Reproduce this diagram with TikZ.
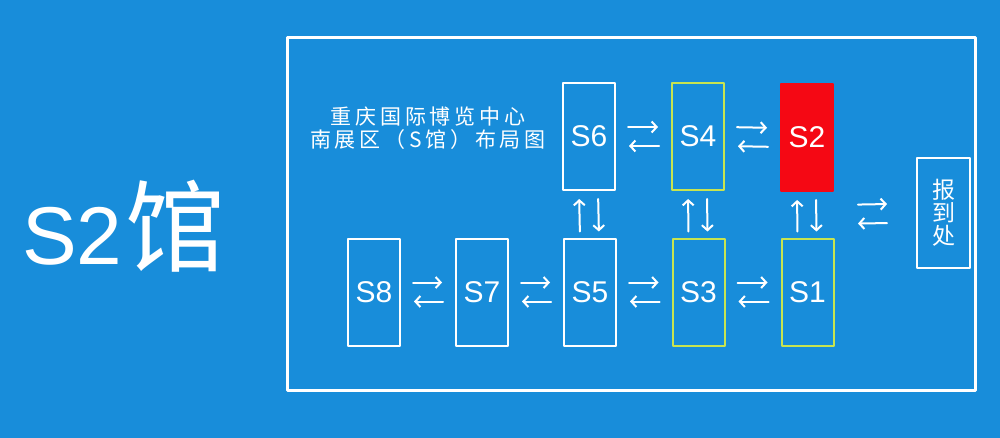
\documentclass[tikz,border=0pt]{standalone}
\usepackage{fontspec}
\setmainfont{Liberation Sans}
\newfontfamily\cjk{Noto Sans CJK SC}
\newfontfamily\cjkwide[LetterSpace=18]{Noto Sans CJK SC}
\usetikzlibrary{arrows.meta}
\definecolor{bgblue}{RGB}{24,141,218}
\definecolor{hallgreen}{RGB}{200,228,80}
\definecolor{hallred}{RGB}{245,8,20}
\tikzset{
  hall/.style={draw=white,line width=2pt,minimum width=52pt,minimum height=107pt,inner sep=0pt,
    text=white,font=\fontsize{30}{30}\selectfont},
  nearhall/.style={hall,draw=hallgreen},
  herehall/.style={hall,draw=hallred,fill=hallred},
  flow/.style={draw=white,line width=2pt,-{Straight Barb[length=5pt,width=11pt]}}
}
\begin{document}
\begin{tikzpicture}[x=1pt,y=-1pt,line join=round,line cap=round]
  \fill[bgblue] (0,0) rectangle (1000,438);
  \useasboundingbox (0,0) rectangle (1000,438);
  \draw[white,line width=3pt] (287,38) rectangle (975,390);
  % big title
  \node[text=white,anchor=west,inner sep=0pt] (big) at (22,226)
    {\fontsize{82}{82}\selectfont S2\hspace{3pt}{\cjk\fontsize{100}{100}\selectfont 馆}};
  \node[text=white,align=center,inner sep=0pt,font=\cjkwide\fontsize{21}{23}\selectfont] (title) at (428,128)
    {重庆国际博览中心\\ 南展区（S馆）布局图};
  % halls
  \node[hall] (s6) at (589,136.5) {S6};
  \node[nearhall] (s4) at (698,136.5) {S4};
  \node[herehall] (s2) at (807,137.5) {S2};
  \node[hall] (s8) at (374,292) {S8};
  \node[hall] (s7) at (482,292) {S7};
  \node[hall] (s5) at (590,292) {S5};
  \node[nearhall] (s3) at (698.5,292) {S3};
  \node[nearhall] (s1) at (807.5,292) {S1};
  \node[draw=white,line width=2pt,minimum width=53pt,minimum height=110pt,inner sep=0pt,
    text=white,align=center,font=\cjk\fontsize{23}{23}\selectfont] (desk) at (943.5,213)
    {报\\ 到\\ 处};
  \coordinate (gate) at (835,214.5);
  % two-way arrows, rows
  \foreach \a/\b in {s6/s4,s4/s2,s8/s7,s7/s5,s5/s3,s3/s1}{
    \draw[flow,shorten <=12pt,shorten >=13pt] ([yshift=9.5pt]\a.east) -- ([yshift=9.5pt]\b.west);
    \draw[flow,shorten <=12pt,shorten >=13pt] ([yshift=-9.5pt]\b.west) -- ([yshift=-9.5pt]\a.east);
  }
  % two-way arrows, columns
  \foreach \a/\b in {s6/s5,s4/s3,s2/s1}{
    \draw[flow,shorten <=6pt,shorten >=8pt] ([xshift=-10pt]\b.north) -- ([xshift=-10pt]\a.south);
    \draw[flow,shorten <=8pt,shorten >=6pt] ([xshift=9pt]\a.south) -- ([xshift=9pt]\b.north);
  }
  % to the registration desk
  \draw[flow,shorten <=23pt,shorten >=29pt] ([yshift=9.5pt]gate) -- ([yshift=9.5pt]desk.west);
  \draw[flow,shorten <=29pt,shorten >=23pt] ([yshift=-9.5pt]desk.west) -- ([yshift=-9.5pt]gate);
\end{tikzpicture}
\end{document}
